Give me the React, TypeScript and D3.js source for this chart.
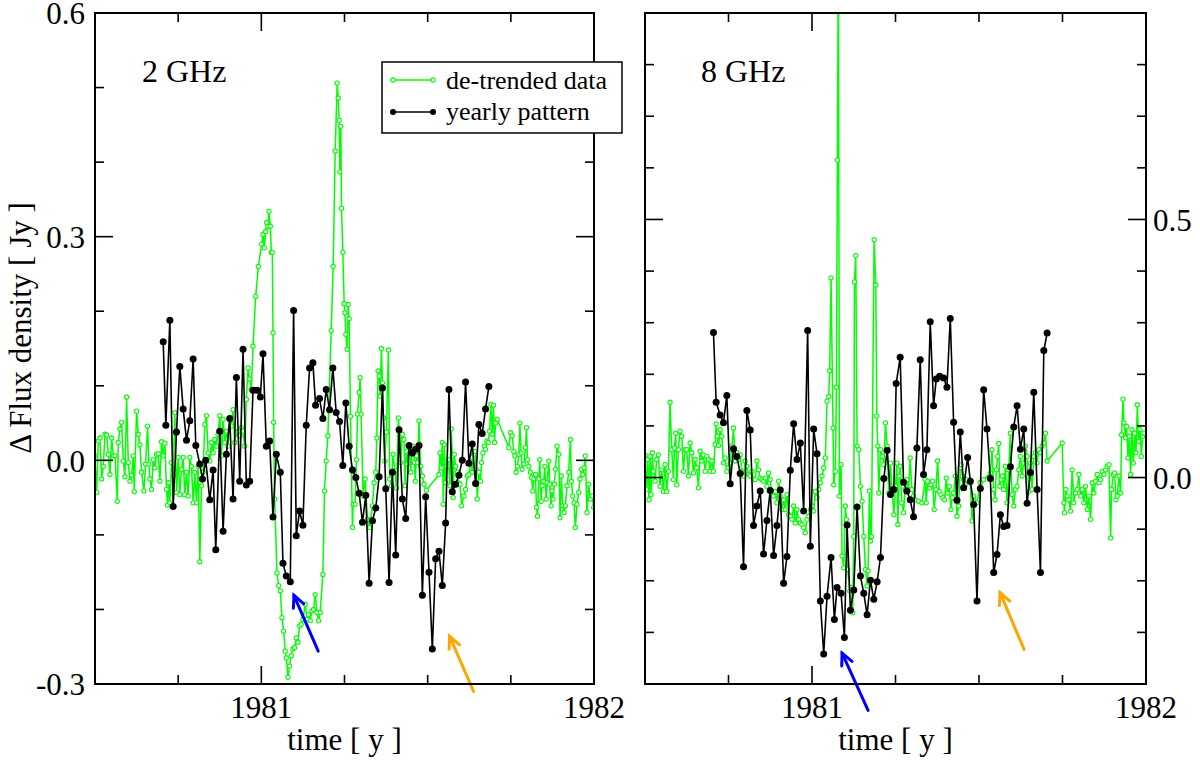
import React from 'react';
import * as d3 from 'd3';

type Pt = [number, number];

interface Arrow {
  from: Pt;
  to: Pt;
  color: string;
}

// time axis, shared by both panels
const timeDomain: [number, number] = [1980.5, 1982];
const timeMajor = [1981, 1982];
const timeMinor = [1980.75, 1981.25, 1981.5, 1981.75];

// 2 GHz axis
const flux2Domain: [number, number] = [-0.3, 0.6];
const flux2Major = [-0.3, 0, 0.3, 0.6];
const flux2Minor = [-0.2, -0.1, 0.1, 0.2, 0.4, 0.5];

// 8 GHz axis
const flux8Domain: [number, number] = [-0.4, 0.9];
const flux8Major = [0, 0.5];
const flux8Minor = [-0.3, -0.2, -0.1, 0.1, 0.2, 0.3, 0.4, 0.6, 0.7, 0.8];

const green2: Pt[] = [
  [1980.5, 0.006], [1980.505, -0.043], [1980.51, 0.026], [1980.515, 0.03], [1980.52, -0.025], [1980.525, -0.008],
  [1980.53, 0.035], [1980.535, 0.034], [1980.54, 0.008], [1980.545, -0.019], [1980.55, 0.03], [1980.555, 0.006],
  [1980.56, 0.006], [1980.567, -0.055], [1980.57, 0.024], [1980.575, 0.042], [1980.58, 0.051], [1980.585, -0.001],
  [1980.59, -0.022], [1980.595, 0.085], [1980.6, -0.003], [1980.605, -0.028], [1980.61, -0.02], [1980.615, 0.006],
  [1980.618, -0.042], [1980.625, 0.066], [1980.63, 0.035], [1980.635, 0.021], [1980.64, -0.016], [1980.647, -0.041],
  [1980.652, -0.005], [1980.658, 0.046], [1980.662, -0.005], [1980.665, -0.025], [1980.67, -0.039], [1980.675, 0.001],
  [1980.68, -0.01], [1980.685, 0.008], [1980.69, 0.009], [1980.695, -0.028], [1980.7, 0.025], [1980.705, 0.006],
  [1980.71, 0.023], [1980.715, -0.039], [1980.718, -0.06], [1980.722, -0.03], [1980.725, -0.057], [1980.73, -0.003],
  [1980.735, -0.021], [1980.74, 0.064], [1980.745, -0.043], [1980.75, 0.004], [1980.755, -0.046], [1980.76, -0.012],
  [1980.765, 0.004], [1980.77, -0.046], [1980.775, -0.016], [1980.78, -0.048], [1980.785, 0.004], [1980.79, -0.008],
  [1980.795, -0.057], [1980.8, -0.016], [1980.805, -0.057], [1980.81, -0.008], [1980.815, -0.136], [1980.82, -0.034],
  [1980.825, -0.016], [1980.83, 0.048], [1980.835, 0.06], [1980.84, 0.01], [1980.845, -0.001], [1980.85, 0.024],
  [1980.855, 0.01], [1980.86, 0.028], [1980.865, 0.019], [1980.87, 0.035], [1980.875, 0.06], [1980.88, 0.006],
  [1980.885, 0.055], [1980.89, 0.024], [1980.895, 0.039], [1980.9, 0.019], [1980.905, 0.057], [1980.91, 0.046],
  [1980.915, 0.068], [1980.92, 0.024], [1980.925, 0.037], [1980.93, 0.039], [1980.935, 0.033], [1980.94, 0.044],
  [1980.945, 0.039], [1980.95, 0.019], [1980.955, 0.082], [1980.96, 0.124], [1980.965, 0.109], [1980.97, 0.095],
  [1980.975, 0.153], [1980.983, 0.22], [1980.991, 0.26], [1981.001, 0.29], [1981.005, 0.303], [1981.009, 0.285],
  [1981.013, 0.307], [1981.016, 0.319], [1981.02, 0.314], [1981.023, 0.334], [1981.027, 0.314], [1981.03, 0.279],
  [1981.033, 0.279], [1981.035, 0.171], [1981.037, 0.051], [1981.04, -0.052], [1981.047, -0.151], [1981.052, -0.168],
  [1981.057, -0.175], [1981.062, -0.211], [1981.067, -0.229], [1981.072, -0.256], [1981.075, -0.265], [1981.08, -0.291],
  [1981.085, -0.276], [1981.09, -0.262], [1981.095, -0.253], [1981.1, -0.251], [1981.105, -0.238], [1981.11, -0.244],
  [1981.115, -0.222], [1981.12, -0.22], [1981.125, -0.213], [1981.132, -0.193], [1981.137, -0.213], [1981.142, -0.207],
  [1981.147, -0.215], [1981.152, -0.202], [1981.157, -0.2], [1981.162, -0.18], [1981.167, -0.204], [1981.172, -0.215],
  [1981.177, -0.204], [1981.185, -0.153], [1981.19, -0.041], [1981.195, -0.001], [1981.2, 0.033], [1981.21, 0.174],
  [1981.216, 0.26], [1981.222, 0.415], [1981.228, 0.506], [1981.231, 0.486], [1981.234, 0.456], [1981.236, 0.387],
  [1981.239, 0.448], [1981.241, 0.338], [1981.245, 0.279], [1981.249, 0.21], [1981.251, 0.198], [1981.254, 0.169],
  [1981.258, 0.149], [1981.261, 0.209], [1981.264, 0.19], [1981.268, 0.059], [1981.274, -0.09], [1981.276, -0.059],
  [1981.282, -0.059], [1981.286, 0.001], [1981.289, 0.062], [1981.294, 0.091], [1981.297, 0.111], [1981.3, 0.062],
  [1981.306, -0.048], [1981.312, -0.025], [1981.319, -0.079], [1981.326, -0.09], [1981.329, -0.079], [1981.334, -0.061],
  [1981.339, -0.03], [1981.344, -0.016], [1981.347, 0.03], [1981.351, 0.12], [1981.354, 0.113], [1981.357, 0.086],
  [1981.361, 0.15], [1981.364, 0.104], [1981.367, 0.057], [1981.371, -0.001], [1981.376, 0.038], [1981.382, 0.148],
  [1981.386, -0.025], [1981.391, -0.034], [1981.396, 0.008], [1981.402, -0.014], [1981.406, -0.037], [1981.412, 0.057],
  [1981.416, 0.033], [1981.419, -0.003], [1981.424, 0.035], [1981.429, 0.028], [1981.432, -0.034], [1981.436, 0.012],
  [1981.439, -0.005], [1981.442, 0.019], [1981.446, 0.01], [1981.449, -0.016], [1981.452, 0.008], [1981.456, 0.019],
  [1981.46, -0.003], [1981.463, -0.028], [1981.466, 0.006], [1981.47, -0.003], [1981.474, 0.053], [1981.479, -0.008],
  [1981.484, -0.021], [1981.489, -0.032], [1981.496, -0.04], [1981.534, -0.019], [1981.537, 0.01], [1981.541, -0.01],
  [1981.544, 0.024], [1981.547, -0.059], [1981.55, 0.021], [1981.554, -0.03], [1981.558, -0.008], [1981.562, 0.001],
  [1981.567, -0.034], [1981.571, 0.042], [1981.574, 0.006], [1981.577, -0.05], [1981.58, 0.008], [1981.584, -0.008],
  [1981.589, -0.016], [1981.592, -0.03], [1981.597, -0.032], [1981.602, -0.061], [1981.609, -0.048], [1981.614, -0.039],
  [1981.619, -0.021], [1981.624, -0.019], [1981.629, -0.001], [1981.634, -0.016], [1981.638, 0.008], [1981.642, 0.012],
  [1981.646, -0.012], [1981.649, -0.052], [1981.654, -0.016], [1981.659, -0.028], [1981.662, -0.003], [1981.666, 0.01],
  [1981.67, 0.019], [1981.674, 0.015], [1981.678, 0.026], [1981.682, 0.024], [1981.686, 0.039], [1981.69, 0.075],
  [1981.694, 0.035], [1981.698, 0.074], [1981.701, 0.024], [1981.704, 0.05], [1981.709, 0.055], [1981.744, 0.017],
  [1981.749, 0.037], [1981.754, 0.033], [1981.759, 0.012], [1981.762, 0.006], [1981.766, -0.016], [1981.77, -0.008],
  [1981.774, 0.008], [1981.777, 0.05], [1981.781, 0.01], [1981.784, -0.012], [1981.789, -0.005], [1981.794, 0.017],
  [1981.797, 0.044], [1981.8, 0.001], [1981.804, -0.008], [1981.809, -0.016], [1981.812, -0.023], [1981.816, -0.041],
  [1981.819, -0.025], [1981.824, -0.019], [1981.827, -0.063], [1981.83, -0.075], [1981.834, -0.025], [1981.837, 0.001],
  [1981.841, -0.055], [1981.844, -0.034], [1981.849, -0.028], [1981.852, -0.008], [1981.856, -0.052], [1981.859, -0.03],
  [1981.864, -0.001], [1981.867, -0.032], [1981.871, -0.061], [1981.874, -0.041], [1981.877, -0.052], [1981.881, -0.032],
  [1981.884, -0.012], [1981.889, 0.019], [1981.894, 0.008], [1981.898, -0.077], [1981.902, -0.021], [1981.906, -0.061],
  [1981.91, -0.07], [1981.914, -0.061], [1981.919, -0.034], [1981.924, -0.016], [1981.929, 0.028], [1981.932, -0.028],
  [1981.936, -0.048], [1981.94, -0.057], [1981.944, -0.09], [1981.949, -0.059], [1981.954, -0.043], [1981.958, -0.025],
  [1981.962, -0.012], [1981.966, -0.019], [1981.97, -0.01], [1981.974, 0.006], [1981.979, -0.07], [1981.984, -0.032],
  [1981.989, -0.052], [1981.994, -0.048], [1981.999, -0.063],
];

const black2: Pt[] = [
  [1980.705, 0.159], [1980.713, 0.047], [1980.725, 0.188], [1980.735, -0.062], [1980.745, 0.038], [1980.755, 0.126],
  [1980.765, 0.069], [1980.775, 0.027], [1980.785, 0.053], [1980.795, 0.136], [1980.803, 0.02], [1980.815, -0.005],
  [1980.823, -0.025], [1980.833, 0.0], [1980.845, -0.053], [1980.855, -0.013], [1980.863, -0.12], [1980.875, 0.039],
  [1980.885, -0.095], [1980.895, 0.008], [1980.905, 0.056], [1980.915, -0.052], [1980.925, 0.111], [1980.935, -0.028],
  [1980.945, 0.149], [1980.955, -0.033], [1980.965, -0.028], [1980.975, 0.094], [1980.987, 0.094], [1980.997, 0.085],
  [1981.005, 0.143], [1981.015, 0.019], [1981.025, 0.026], [1981.035, -0.076], [1981.045, 0.008], [1981.057, -0.016],
  [1981.065, -0.138], [1981.075, -0.155], [1981.087, -0.163], [1981.097, 0.201], [1981.105, -0.101], [1981.115, -0.068],
  [1981.125, -0.087], [1981.135, 0.047], [1981.145, 0.124], [1981.155, 0.131], [1981.163, 0.074], [1981.175, 0.083],
  [1981.185, 0.056], [1981.195, 0.095], [1981.205, 0.068], [1981.215, 0.124], [1981.225, 0.064], [1981.235, 0.052],
  [1981.245, -0.007], [1981.254, 0.077], [1981.264, 0.019], [1981.274, -0.013], [1981.284, -0.023], [1981.294, -0.044],
  [1981.304, -0.083], [1981.314, -0.047], [1981.324, -0.165], [1981.334, -0.081], [1981.344, -0.064], [1981.354, -0.022],
  [1981.364, 0.097], [1981.374, -0.038], [1981.384, -0.164], [1981.394, -0.016], [1981.404, -0.127], [1981.414, 0.041],
  [1981.424, -0.052], [1981.434, -0.078], [1981.444, 0.02], [1981.454, 0.01], [1981.464, 0.015], [1981.474, 0.02],
  [1981.484, -0.181], [1981.494, -0.049], [1981.504, -0.15], [1981.514, -0.253], [1981.524, -0.132], [1981.534, -0.122],
  [1981.544, -0.168], [1981.554, -0.084], [1981.564, 0.095], [1981.574, -0.042], [1981.584, -0.032], [1981.594, -0.02],
  [1981.604, 0.0], [1981.614, 0.105], [1981.624, -0.004], [1981.634, 0.022], [1981.644, -0.031], [1981.654, 0.048],
  [1981.664, 0.036], [1981.674, 0.069], [1981.684, 0.099],
];

const green8: Pt[] = [
  [1980.5, 0.044], [1980.505, -0.023], [1980.508, 0.035], [1980.512, -0.043], [1980.515, 0.041], [1980.518, -0.033],
  [1980.522, 0.048], [1980.525, 0.012], [1980.53, -0.007], [1980.535, 0.035], [1980.54, 0.044], [1980.545, -0.017],
  [1980.55, 0.015], [1980.555, -0.027], [1980.56, 0.025], [1980.565, -0.027], [1980.57, 0.012], [1980.575, 0.146],
  [1980.58, 0.054], [1980.585, -0.004], [1980.588, 0.057], [1980.592, 0.086], [1980.595, -0.014], [1980.6, 0.054],
  [1980.605, 0.09], [1980.61, 0.08], [1980.615, 0.012], [1980.62, 0.054], [1980.625, 0.054], [1980.63, 0.003],
  [1980.635, 0.067], [1980.64, 0.048], [1980.645, 0.009], [1980.65, 0.035], [1980.655, 0.019], [1980.66, -0.02],
  [1980.665, 0.051], [1980.67, 0.032], [1980.675, 0.044], [1980.68, 0.012], [1980.685, 0.041], [1980.69, 0.035],
  [1980.695, 0.012], [1980.7, 0.032], [1980.705, 0.012], [1980.71, 0.064], [1980.713, 0.104], [1980.716, 0.08],
  [1980.72, 0.062], [1980.725, 0.093], [1980.73, 0.08], [1980.735, 0.028], [1980.74, 0.038], [1980.745, 0.012],
  [1980.75, 0.019], [1980.755, 0.028], [1980.76, 0.061], [1980.765, 0.096], [1980.77, 0.032], [1980.775, 0.048],
  [1980.78, 0.035], [1980.785, 0.044], [1980.79, 0.012], [1980.795, 0.003], [1980.8, 0.032], [1980.805, 0.022],
  [1980.81, 0.006], [1980.815, 0.003], [1980.82, 0.012], [1980.825, -0.004], [1980.83, -0.004], [1980.835, 0.032],
  [1980.84, 0.015], [1980.845, -0.001], [1980.85, -0.004], [1980.855, -0.007], [1980.86, -0.001], [1980.865, -0.017],
  [1980.87, 0.009], [1980.875, -0.004], [1980.88, -0.033], [1980.885, -0.036], [1980.89, -0.027], [1980.895, -0.049],
  [1980.9, -0.007], [1980.905, -0.036], [1980.91, -0.062], [1980.915, -0.043], [1980.92, -0.062], [1980.925, -0.033],
  [1980.93, -0.072], [1980.935, -0.075], [1980.94, -0.081], [1980.945, -0.055], [1980.95, -0.088], [1980.955, -0.062],
  [1980.96, -0.081], [1980.965, -0.088], [1980.97, -0.091], [1980.975, -0.097], [1980.98, -0.107], [1980.985, -0.081],
  [1980.99, -0.075], [1980.995, -0.062], [1981.0, -0.055], [1981.005, -0.065], [1981.01, -0.027], [1981.015, -0.039],
  [1981.02, -0.023], [1981.025, -0.01], [1981.03, 0.003], [1981.035, 0.019], [1981.04, 0.038], [1981.045, 0.148],
  [1981.05, 0.157], [1981.053, 0.207], [1981.057, 0.387], [1981.063, 0.096], [1981.065, -0.014], [1981.07, 0.012],
  [1981.073, 0.175], [1981.076, 0.615], [1981.079, 1.05], [1981.082, -0.036], [1981.087, 0.025], [1981.09, -0.152],
  [1981.095, -0.175], [1981.1, -0.055], [1981.103, -0.081], [1981.107, -0.178], [1981.113, -0.22], [1981.118, -0.213],
  [1981.122, -0.262], [1981.125, -0.114], [1981.127, 0.379], [1981.131, 0.43], [1981.135, 0.061], [1981.14, 0.054],
  [1981.145, -0.017], [1981.15, -0.046], [1981.155, -0.114], [1981.16, -0.178], [1981.165, -0.21], [1981.168, -0.181],
  [1981.172, -0.026], [1981.175, -0.123], [1981.178, -0.114], [1981.186, 0.461], [1981.191, 0.373], [1981.194, 0.119],
  [1981.197, 0.061], [1981.2, -0.03], [1981.205, 0.054], [1981.21, 0.041], [1981.215, 0.025], [1981.22, 0.106],
  [1981.225, 0.061], [1981.23, -0.03], [1981.235, 0.028], [1981.24, -0.027], [1981.245, -0.072], [1981.25, -0.017],
  [1981.254, 0.028], [1981.257, -0.091], [1981.261, 0.003], [1981.264, 0.022], [1981.269, -0.049], [1981.274, -0.068],
  [1981.279, -0.023], [1981.284, -0.004], [1981.289, -0.023], [1981.294, 0.038], [1981.299, -0.023], [1981.304, -0.036],
  [1981.309, -0.043], [1981.319, -0.046], [1981.329, -0.049], [1981.339, -0.004], [1981.342, -0.049], [1981.346, -0.007],
  [1981.352, -0.02], [1981.356, -0.014], [1981.361, -0.007], [1981.366, -0.062], [1981.371, -0.023], [1981.376, 0.032],
  [1981.381, -0.027], [1981.386, -0.033], [1981.392, -0.039], [1981.397, -0.043], [1981.402, -0.001], [1981.406, -0.03],
  [1981.411, -0.017], [1981.416, -0.062], [1981.42, -0.039], [1981.424, -0.03], [1981.429, 0.003], [1981.434, -0.075],
  [1981.439, -0.055], [1981.444, 0.019], [1981.447, 0.025], [1981.45, 0.003], [1981.454, -0.004], [1981.459, -0.014],
  [1981.464, -0.004], [1981.474, -0.01], [1981.479, -0.084], [1981.484, -0.036], [1981.494, -0.049], [1981.504, -0.01],
  [1981.514, -0.004], [1981.534, 0.009], [1981.539, 0.054], [1981.544, -0.023], [1981.548, -0.043], [1981.552, 0.015],
  [1981.556, 0.041], [1981.559, 0.066], [1981.562, -0.017], [1981.566, -0.004], [1981.57, 0.003], [1981.574, -0.023],
  [1981.579, 0.022], [1981.584, -0.049], [1981.589, 0.015], [1981.594, 0.086], [1981.599, -0.033], [1981.604, -0.055],
  [1981.609, -0.023], [1981.614, -0.017], [1981.619, 0.015], [1981.624, 0.041], [1981.629, 0.003], [1981.634, 0.028],
  [1981.639, 0.061], [1981.644, 0.041], [1981.649, -0.027], [1981.654, 0.028], [1981.659, -0.023], [1981.664, 0.041],
  [1981.669, 0.048], [1981.674, 0.028], [1981.679, 0.054], [1981.684, 0.048], [1981.689, 0.061], [1981.694, 0.067],
  [1981.699, 0.086], [1981.704, 0.032], [1981.749, 0.067], [1981.754, -0.049], [1981.756, -0.068], [1981.76, -0.023],
  [1981.764, -0.036], [1981.769, -0.043], [1981.774, -0.065], [1981.779, 0.015], [1981.784, -0.049], [1981.789, -0.03],
  [1981.794, -0.023], [1981.799, 0.006], [1981.804, -0.036], [1981.809, -0.023], [1981.814, -0.049], [1981.819, -0.017],
  [1981.824, -0.062], [1981.829, -0.036], [1981.834, -0.081], [1981.839, -0.01], [1981.844, -0.03], [1981.849, -0.007],
  [1981.854, 0.006], [1981.859, -0.01], [1981.864, -0.004], [1981.869, 0.012], [1981.874, 0.006], [1981.879, 0.015],
  [1981.884, 0.022], [1981.889, 0.025], [1981.894, -0.117], [1981.897, -0.023], [1981.902, 0.006], [1981.906, 0.009],
  [1981.91, -0.043], [1981.914, -0.036], [1981.919, 0.003], [1981.924, -0.03], [1981.927, 0.083], [1981.931, 0.152],
  [1981.934, 0.106], [1981.939, 0.077], [1981.942, 0.099], [1981.946, 0.038], [1981.95, 0.08], [1981.954, 0.006],
  [1981.958, 0.093], [1981.962, 0.028], [1981.966, 0.086], [1981.97, 0.048], [1981.974, 0.141], [1981.978, 0.07],
  [1981.982, 0.093], [1981.986, 0.041], [1981.99, 0.08], [1981.994, 0.086],
];

const black8: Pt[] = [
  [1980.705, 0.281], [1980.713, 0.146], [1980.725, 0.121], [1980.735, 0.106], [1980.745, 0.159], [1980.755, -0.012],
  [1980.765, 0.056], [1980.775, 0.041], [1980.785, 0.008], [1980.795, -0.173], [1980.805, 0.13], [1980.815, 0.092],
  [1980.825, -0.093], [1980.835, -0.055], [1980.845, -0.026], [1980.855, -0.148], [1980.865, -0.083], [1980.875, -0.025],
  [1980.885, -0.151], [1980.895, -0.093], [1980.905, -0.024], [1980.915, -0.205], [1980.925, -0.153], [1980.935, 0.014],
  [1980.945, 0.104], [1980.955, 0.035], [1980.965, 0.067], [1980.975, -0.065], [1980.987, 0.285], [1980.995, -0.133],
  [1981.005, 0.094], [1981.015, 0.046], [1981.025, -0.239], [1981.035, -0.342], [1981.045, -0.23], [1981.057, -0.155],
  [1981.067, -0.275], [1981.075, -0.213], [1981.087, -0.224], [1981.097, -0.31], [1981.105, -0.092], [1981.115, -0.257],
  [1981.125, -0.218], [1981.135, -0.057], [1981.145, -0.191], [1981.155, -0.224], [1981.165, -0.266], [1981.175, -0.199],
  [1981.185, -0.236], [1981.195, -0.202], [1981.205, -0.155], [1981.215, -0.002], [1981.225, 0.053], [1981.235, -0.033],
  [1981.245, -0.023], [1981.252, 0.182], [1981.264, 0.233], [1981.274, -0.009], [1981.284, -0.026], [1981.294, -0.043],
  [1981.304, -0.076], [1981.314, 0.057], [1981.324, 0.228], [1981.334, 0.006], [1981.344, 0.054], [1981.354, 0.302],
  [1981.364, 0.139], [1981.372, 0.191], [1981.382, 0.196], [1981.394, 0.193], [1981.404, 0.175], [1981.414, 0.308],
  [1981.424, 0.107], [1981.434, -0.044], [1981.444, 0.088], [1981.454, -0.02], [1981.466, 0.039], [1981.474, -0.007],
  [1981.484, -0.052], [1981.494, -0.239], [1981.504, -0.021], [1981.514, 0.17], [1981.524, 0.094], [1981.534, -0.002],
  [1981.544, -0.184], [1981.554, -0.149], [1981.564, -0.072], [1981.574, -0.095], [1981.584, -0.093], [1981.594, 0.021],
  [1981.604, 0.098], [1981.614, 0.139], [1981.624, 0.055], [1981.634, 0.094], [1981.644, -0.05], [1981.654, 0.01],
  [1981.664, 0.165], [1981.674, -0.023], [1981.684, -0.184], [1981.694, 0.246], [1981.704, 0.28],
];

const arrows2: Arrow[] = [
  { from: [1981.171, -0.256], to: [1981.098, -0.181], color: '#0000ff' },
  { from: [1981.638, -0.31], to: [1981.566, -0.236], color: '#ffa500' },
];
const arrows8: Arrow[] = [
  { from: [1981.168, -0.451], to: [1981.09, -0.34], color: '#0000ff' },
  { from: [1981.635, -0.333], to: [1981.563, -0.223], color: '#ffa500' },
];

const FONT = "'Liberation Serif', 'Times New Roman', serif";
const GREEN = '#00ff00';
const plotTop = 13;
const plotBottom = 684;

interface PanelProps {
  id: string;
  left: number;
  right: number;
  yDomain: [number, number];
  yMajor: number[];
  yMinor: number[];
  labelSide: 'left' | 'right';
  green: Pt[];
  black: Pt[];
  arrows: Arrow[];
  band: string;
  bandX: number;
}

const Panel: React.FC<PanelProps> = ({
  id, left, right, yDomain, yMajor, yMinor, labelSide, green, black, arrows, band, bandX,
}) => {
  const x = d3.scaleLinear().domain(timeDomain).range([left, right]);
  const y = d3.scaleLinear().domain(yDomain).range([plotBottom, plotTop]);
  const line = d3.line<Pt>().x(d => x(d[0])).y(d => y(d[1]));
  const major = 18;
  const minor = 9;

  return (
    <g>
      <defs>
        <clipPath id={`clip-${id}`}>
          <rect x={left} y={plotTop} width={right - left} height={plotBottom - plotTop} />
        </clipPath>
      </defs>

      <g clipPath={`url(#clip-${id})`}>
        <path d={line(green) || ''} fill="none" stroke={GREEN} strokeWidth={1.5} />
        {green.map((d, i) => (
          <circle key={i} cx={x(d[0])} cy={y(d[1])} r={2.1} fill="#ffffff" stroke={GREEN} strokeWidth={1.1} />
        ))}
        <path d={line(black) || ''} fill="none" stroke="#000" strokeWidth={1.6} />
        {black.map((d, i) => (
          <circle key={i} cx={x(d[0])} cy={y(d[1])} r={3.5} fill="#000" />
        ))}
      </g>

      {/* arrows */}
      {arrows.map((a, i) => {
        const x0 = x(a.from[0]), y0 = y(a.from[1]);
        const x1 = x(a.to[0]), y1 = y(a.to[1]);
        const ang = Math.atan2(y0 - y1, x0 - x1);
        const len = 13;
        const h1 = [x1 + len * Math.cos(ang + 0.45), y1 + len * Math.sin(ang + 0.45)];
        const h2 = [x1 + len * Math.cos(ang - 0.45), y1 + len * Math.sin(ang - 0.45)];
        return (
          <g key={i} stroke={a.color} strokeWidth={3} fill="none" strokeLinecap="round">
            <line x1={x0} y1={y0} x2={x1} y2={y1} />
            <polyline points={`${h1[0]},${h1[1]} ${x1},${y1} ${h2[0]},${h2[1]}`} strokeLinejoin="miter" />
          </g>
        );
      })}

      {/* frame */}
      <rect x={left} y={plotTop} width={right - left} height={plotBottom - plotTop} fill="none" stroke="#000" strokeWidth={2} />

      {/* y ticks on both sides */}
      {yMajor.map(t => (
        <g key={`M${t}`}>
          <line x1={left} x2={left + major} y1={y(t)} y2={y(t)} stroke="#000" strokeWidth={1.6} />
          <line x1={right} x2={right - major} y1={y(t)} y2={y(t)} stroke="#000" strokeWidth={1.6} />
        </g>
      ))}
      {yMinor.map(t => (
        <g key={`m${t}`}>
          <line x1={left} x2={left + minor} y1={y(t)} y2={y(t)} stroke="#000" strokeWidth={1.6} />
          <line x1={right} x2={right - minor} y1={y(t)} y2={y(t)} stroke="#000" strokeWidth={1.6} />
        </g>
      ))}
      {/* x ticks on bottom and top */}
      {timeMajor.map(t => (
        <g key={`X${t}`}>
          <line x1={x(t)} x2={x(t)} y1={plotBottom} y2={plotBottom - major} stroke="#000" strokeWidth={1.6} />
          <line x1={x(t)} x2={x(t)} y1={plotTop} y2={plotTop + major} stroke="#000" strokeWidth={1.6} />
        </g>
      ))}
      {timeMinor.map(t => (
        <g key={`x${t}`}>
          <line x1={x(t)} x2={x(t)} y1={plotBottom} y2={plotBottom - minor} stroke="#000" strokeWidth={1.6} />
          <line x1={x(t)} x2={x(t)} y1={plotTop} y2={plotTop + minor} stroke="#000" strokeWidth={1.6} />
        </g>
      ))}

      {/* tick labels */}
      {yMajor.map(t => (
        <text
          key={`L${t}`}
          x={labelSide === 'left' ? left - 10 : right + 7}
          y={y(t)}
          dy="0.37em"
          textAnchor={labelSide === 'left' ? 'end' : 'start'}
          fontSize={31}
          fontFamily={FONT}
        >
          {t.toFixed(1)}
        </text>
      ))}
      {timeMajor.map(t => (
        <text key={`T${t}`} x={x(t)} y={718} textAnchor="middle" fontSize={31} fontFamily={FONT}>
          {t}
        </text>
      ))}
      <text x={(left + right) / 2} y={750} textAnchor="middle" fontSize={31} fontFamily={FONT}>
        time [ y ]
      </text>
      <text x={bandX} y={82} fontSize={32} fontFamily={FONT}>
        {band}
      </text>
    </g>
  );
};

const Legend: React.FC = () => (
  <g fontFamily={FONT}>
    <rect x={382} y={62} width={240} height={71} fill="#fff" stroke="#000" strokeWidth={1.5} />
    <line x1={393} x2={433} y1={80} y2={80} stroke={GREEN} strokeWidth={1.5} />
    <circle cx={393} cy={80} r={2.1} fill="#fff" stroke={GREEN} strokeWidth={1.1} />
    <circle cx={433} cy={80} r={2.1} fill="#fff" stroke={GREEN} strokeWidth={1.1} />
    <text x={446} y={89} fontSize={26}>de-trended data</text>
    <line x1={393} x2={433} y1={112} y2={112} stroke="#000" strokeWidth={1.6} />
    <circle cx={393} cy={112} r={3} fill="#000" />
    <circle cx={433} cy={112} r={3} fill="#000" />
    <text x={446} y={120} fontSize={26}>yearly pattern</text>
  </g>
);

const App: React.FC = () => (
  <div style={{ position: 'fixed', left: 0, top: 0, width: 1200, height: 762, background: '#fff' }}>
    <svg width={1200} height={762} viewBox="0 0 1200 762">
      <rect width={1200} height={762} fill="#fff" />
      <Panel
        id="p2"
        left={95}
        right={594}
        yDomain={flux2Domain}
        yMajor={flux2Major}
        yMinor={flux2Minor}
        labelSide="left"
        green={green2}
        black={black2}
        arrows={arrows2}
        band="2 GHz"
        bandX={142}
      />
      <Panel
        id="p8"
        left={645}
        right={1146}
        yDomain={flux8Domain}
        yMajor={flux8Major}
        yMinor={flux8Minor}
        labelSide="right"
        green={green8}
        black={black8}
        arrows={arrows8}
        band="8 GHz"
        bandX={701}
      />
      <text
        transform="translate(31, 328) rotate(-90)"
        textAnchor="middle"
        fontSize={31}
        fontFamily={FONT}
      >
        Δ Flux density [ Jy ]
      </text>
      <Legend />
    </svg>
  </div>
);

export default App;
